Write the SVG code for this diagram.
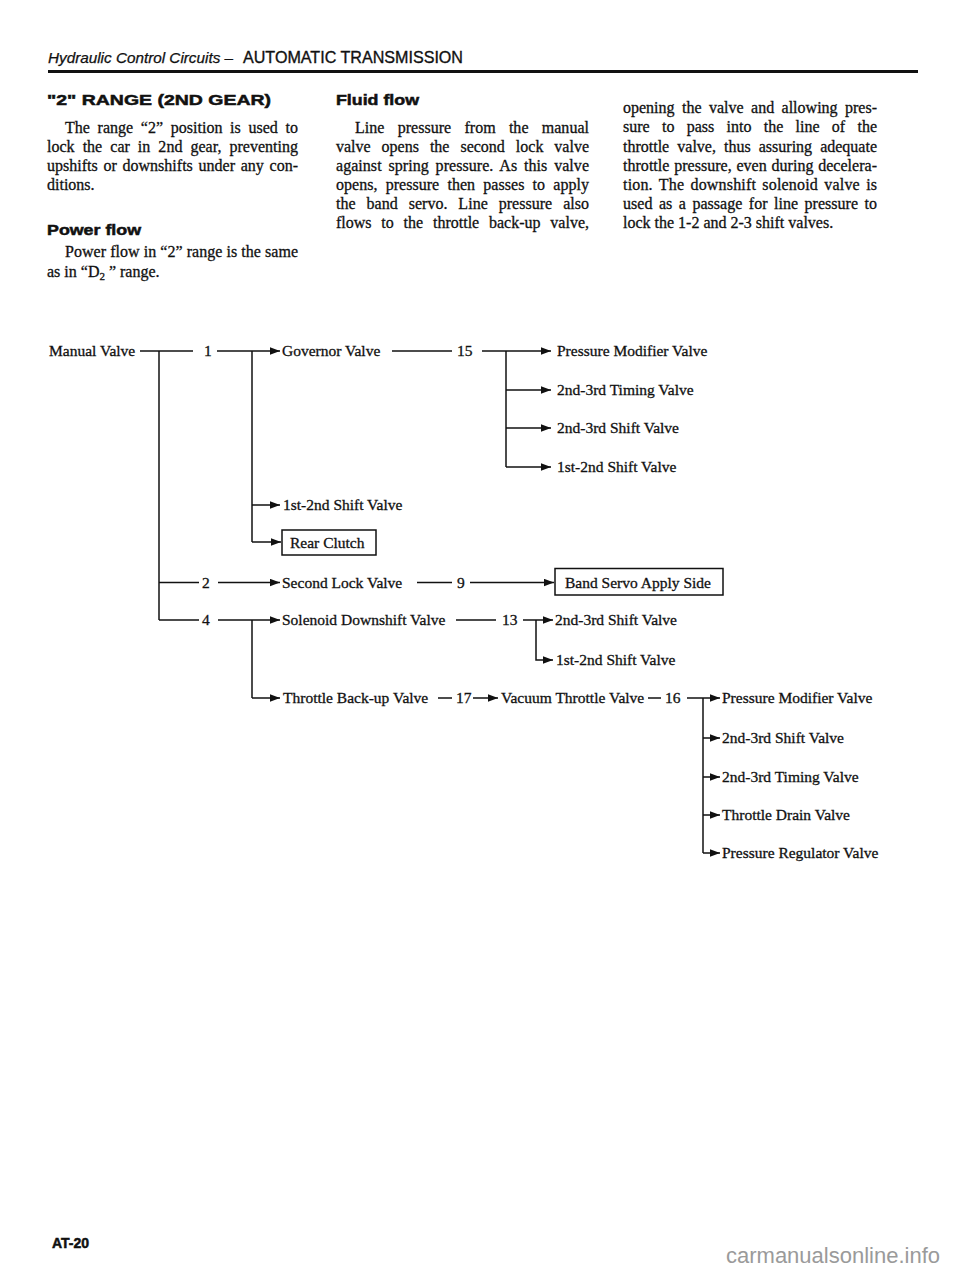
<svg xmlns="http://www.w3.org/2000/svg" width="960" height="1278" viewBox="0 0 960 1278">
<defs>
<style>
.t{font-family:"Liberation Serif","Times New Roman",serif;font-size:16px;fill:#111;stroke:#111;stroke-width:0.3}
.d{font-family:"Liberation Serif","Times New Roman",serif;font-size:15.5px;fill:#111;stroke:#111;stroke-width:0.3}
.h{font-family:"Liberation Sans",Arial,sans-serif;font-weight:bold;fill:#111;stroke:#111;stroke-width:0.5}
.c path{stroke:#111;stroke-width:1.5;fill:none}
.box{fill:none;stroke:#111;stroke-width:1.5}
</style>
<marker id="ah" markerUnits="userSpaceOnUse" markerWidth="10" markerHeight="8" refX="10" refY="4" orient="auto">
<path d="M0,0.3 L10,4 L0,7.7 z" fill="#111"/>
</marker>
</defs>
<rect width="960" height="1278" fill="#ffffff"/>

<g id="header">
<text x="48" y="63" font-family="'Liberation Sans',Arial,sans-serif" font-style="italic" font-size="14" fill="#111" stroke="#111" stroke-width="0.25" textLength="185" lengthAdjust="spacingAndGlyphs">Hydraulic Control Circuits –</text>
<text x="243" y="63" font-family="'Liberation Sans',Arial,sans-serif" font-size="17" fill="#111" stroke="#111" stroke-width="0.35" textLength="220" lengthAdjust="spacingAndGlyphs">AUTOMATIC TRANSMISSION</text>
<path d="M48,71.5 H918" stroke="#111" stroke-width="2.8"/>
</g>

<g id="col-left">
<text class="h" x="47" y="105" font-size="15" textLength="224" lengthAdjust="spacingAndGlyphs">"2" RANGE (2ND GEAR)</text>
<text class="t" x="65" y="133" word-spacing="3.7" textLength="233" lengthAdjust="spacing">The range “2” position is used to</text>
<text class="t" x="47" y="152" word-spacing="4" textLength="251" lengthAdjust="spacing">lock the car in 2nd gear, preventing</text>
<text class="t" x="47" y="171" word-spacing="1.7" textLength="251" lengthAdjust="spacing">upshifts or downshifts under any con-</text>
<text class="t" x="47" y="190">ditions.</text>
<text class="h" x="47" y="235" font-size="14.5" textLength="94" lengthAdjust="spacingAndGlyphs">Power flow</text>
<text class="t" x="65" y="257" textLength="233" lengthAdjust="spacing">Power flow in “2” range is the same</text>
<text class="t" x="47" y="277">as in “D<tspan font-size="11" dy="3">2</tspan><tspan dy="-3"> ” range.</tspan></text>
</g>

<g id="col-center">
<text class="h" x="336" y="105" font-size="14.5" textLength="83" lengthAdjust="spacingAndGlyphs">Fluid flow</text>
<text class="t" x="355" y="133" word-spacing="9.2" textLength="234" lengthAdjust="spacing">Line pressure from the manual</text>
<text class="t" x="336" y="152" word-spacing="7" textLength="253" lengthAdjust="spacing">valve opens the second lock valve</text>
<text class="t" x="336" y="171" word-spacing="2.8" textLength="253" lengthAdjust="spacing">against spring pressure. As this valve</text>
<text class="t" x="336" y="190" word-spacing="4.2" textLength="253" lengthAdjust="spacing">opens, pressure then passes to apply</text>
<text class="t" x="336" y="209" word-spacing="6.9" textLength="253" lengthAdjust="spacing">the band servo. Line pressure also</text>
<text class="t" x="336" y="228" word-spacing="5.8" textLength="253" lengthAdjust="spacing">flows to the throttle back-up valve,</text>
</g>

<g id="col-right">
<text class="t" x="623" y="113" word-spacing="3.4" textLength="254" lengthAdjust="spacing">opening the valve and allowing pres-</text>
<text class="t" x="623" y="132" word-spacing="8.3" textLength="254" lengthAdjust="spacing">sure to pass into the line of the</text>
<text class="t" x="623" y="151.5" word-spacing="4.1" textLength="254" lengthAdjust="spacing">throttle valve, thus assuring adequate</text>
<text class="t" x="623" y="170.5" word-spacing="0.7" textLength="254" lengthAdjust="spacing">throttle pressure, even during decelera-</text>
<text class="t" x="623" y="190" word-spacing="2.1" textLength="254" lengthAdjust="spacing">tion. The downshift solenoid valve is</text>
<text class="t" x="623" y="209" word-spacing="2.5" textLength="254" lengthAdjust="spacing">used as a passage for line pressure to</text>
<text class="t" x="623" y="228">lock the 1-2 and 2-3 shift valves.</text>
</g>

<g id="connectors" class="c">
<path d="M140,351 H193"/>
<path d="M159,351 V620"/>
<path d="M159,582.5 H199"/>
<path d="M159,620 H199"/>
<path d="M217,351 H280" marker-end="url(#ah)"/>
<path d="M252,351 V542"/>
<path d="M252,505 H280" marker-end="url(#ah)"/>
<path d="M252,542 H281" marker-end="url(#ah)"/>
<path d="M392,351 H452"/>
<path d="M482,351 H551" marker-end="url(#ah)"/>
<path d="M506,351 V467"/>
<path d="M506,390 H551" marker-end="url(#ah)"/>
<path d="M506,428 H551" marker-end="url(#ah)"/>
<path d="M506,467 H551" marker-end="url(#ah)"/>
<path d="M218,582.5 H280" marker-end="url(#ah)"/>
<path d="M417,582.5 H452"/>
<path d="M470,582.5 H554" marker-end="url(#ah)"/>
<path d="M218,620 H280" marker-end="url(#ah)"/>
<path d="M252,620 V698"/>
<path d="M252,698 H280" marker-end="url(#ah)"/>
<path d="M456,620 H496"/>
<path d="M523,620 H553" marker-end="url(#ah)"/>
<path d="M536,620 V660 H553" marker-end="url(#ah)"/>
<path d="M438,698 H452"/>
<path d="M473,698 H498" marker-end="url(#ah)"/>
<path d="M648,698 H661"/>
<path d="M687,698 H720" marker-end="url(#ah)"/>
<path d="M703,698 V853"/>
<path d="M703,738 H720" marker-end="url(#ah)"/>
<path d="M703,777 H720" marker-end="url(#ah)"/>
<path d="M703,815 H720" marker-end="url(#ah)"/>
<path d="M703,853 H720" marker-end="url(#ah)"/>
</g>

<g id="n-manual"><text class="d" x="49" y="356">Manual Valve</text></g>
<g id="n-1"><text class="d" x="204" y="356">1</text></g>
<g id="n-governor"><text class="d" x="282" y="356">Governor Valve</text></g>
<g id="n-15"><text class="d" x="457" y="356">15</text></g>
<g id="n-pmv1"><text class="d" x="557" y="356">Pressure Modifier Valve</text></g>
<g id="n-timing1"><text class="d" x="557" y="395">2nd-3rd Timing Valve</text></g>
<g id="n-shift23a"><text class="d" x="557" y="433">2nd-3rd Shift Valve</text></g>
<g id="n-shift12a"><text class="d" x="557" y="472">1st-2nd Shift Valve</text></g>
<g id="n-shift12b"><text class="d" x="283" y="510">1st-2nd Shift Valve</text></g>
<g id="n-rear"><rect class="box" x="282" y="530" width="94" height="25"/><text class="d" x="290" y="547.5">Rear Clutch</text></g>
<g id="n-2"><text class="d" x="202" y="588">2</text></g>
<g id="n-secondlock"><text class="d" x="282" y="588">Second Lock Valve</text></g>
<g id="n-9"><text class="d" x="457" y="588">9</text></g>
<g id="n-band"><rect class="box" x="555" y="568.5" width="168" height="26.5"/><text class="d" x="565" y="587.5">Band Servo Apply Side</text></g>
<g id="n-4"><text class="d" x="202" y="625">4</text></g>
<g id="n-solenoid"><text class="d" x="282" y="625">Solenoid Downshift Valve</text></g>
<g id="n-13"><text class="d" x="502" y="625">13</text></g>
<g id="n-shift23b"><text class="d" x="555" y="625">2nd-3rd Shift Valve</text></g>
<g id="n-shift12c"><text class="d" x="556" y="665">1st-2nd Shift Valve</text></g>
<g id="n-backup"><text class="d" x="283" y="703">Throttle Back-up Valve</text></g>
<g id="n-17"><text class="d" x="456" y="703">17</text></g>
<g id="n-vacuum"><text class="d" x="501" y="703">Vacuum Throttle Valve</text></g>
<g id="n-16"><text class="d" x="665" y="703">16</text></g>
<g id="n-pmv2"><text class="d" x="722" y="703">Pressure Modifier Valve</text></g>
<g id="n-shift23c"><text class="d" x="722" y="743">2nd-3rd Shift Valve</text></g>
<g id="n-timing2"><text class="d" x="722" y="782">2nd-3rd Timing Valve</text></g>
<g id="n-drain"><text class="d" x="722" y="820">Throttle Drain Valve</text></g>
<g id="n-regulator"><text class="d" x="722" y="858">Pressure Regulator Valve</text></g>

<g id="footer">
<text class="h" x="52" y="1248" font-size="14" stroke-width="0.3">AT-20</text>
<text x="726" y="1263" font-family="'Liberation Sans',Arial,sans-serif" font-size="22" fill="#9a9a9a">carmanualsonline.info</text>
</g>
</svg>
